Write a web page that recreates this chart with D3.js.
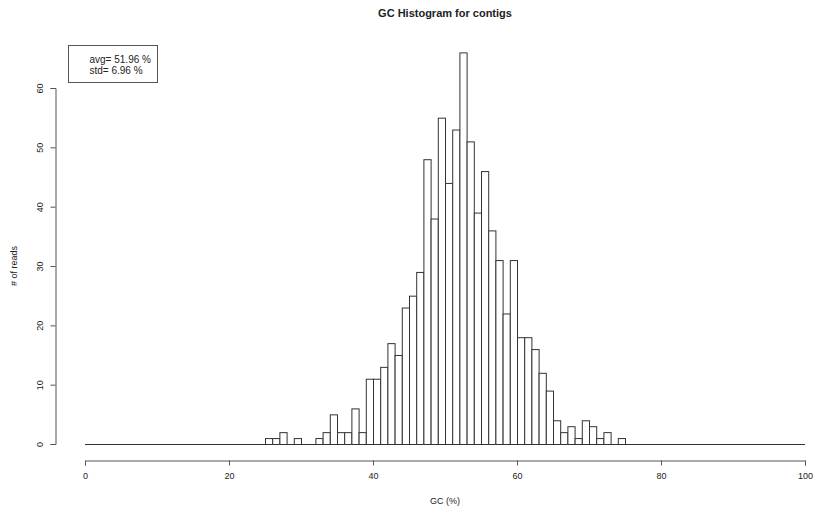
<!DOCTYPE html>
<html>
<head>
<meta charset="utf-8">
<script src="https://cdnjs.cloudflare.com/ajax/libs/d3/7.8.5/d3.min.js"></script>
<style>
  body { margin: 0; background: #fff; }
  text { font-family: "Liberation Sans", Arial, sans-serif; fill: #222; }
</style>
</head>
<body>
<div id="chart"></div>
<script>
// GC content bins, 1% wide, from 0 to 100
const binStarts = d3.range(0, 100);
// counts for bins 25..74, the rest are 0
const firstBin = 25;
const binCounts = [1, 1, 2, 0, 1, 0, 0, 1, 2, 5,
                   2, 2, 6, 2, 11, 11, 13, 17, 15, 23,
                   25, 29, 48, 38, 55, 44, 53, 66, 51, 39,
                   46, 36, 31, 22, 31, 18, 18, 16, 12, 9,
                   4, 2, 3, 1, 4, 3, 1, 2, 0, 1];
const xTicks = [0, 20, 40, 60, 80, 100];
const yTicks = [0, 10, 20, 30, 40, 50, 60];
const legendLines = ["avg= 51.96 %", "std= 6.96 %"];

let drawHist = (locationId) => {
  const W = 816, H = 513;
  const x0 = 85, x1 = 805, y0 = 444, y1 = 88;

  const svg = d3.select(locationId).append("svg")
    .attr("width", W).attr("height", H);

  const xScale = d3.scaleLinear().domain([0, 100]).range([x0, x1]);
  const yScale = d3.scaleLinear().domain([0, 60]).range([y0, y1]);

  const data = binStarts.map((b) => {
    const i = b - firstBin;
    return { x: b, count: i >= 0 && i < binCounts.length ? binCounts[i] : 0 };
  });

  // empty bins still show as a flat line along the bottom
  svg.append("line")
    .attr("x1", xScale(0)).attr("x2", xScale(100))
    .attr("y1", yScale(0) + 0.5).attr("y2", yScale(0) + 0.5)
    .attr("stroke", "#333").attr("stroke-width", 1.2);

  // bars (R style: white fill, dark outline)
  svg.append("g").selectAll("rect")
    .data(data.filter((d) => d.count > 0))
    .join("rect")
    .attr("x", (d) => xScale(d.x) + 0.5)
    .attr("y", (d) => yScale(d.count) + 0.5)
    .attr("width", xScale(1) - xScale(0))
    .attr("height", (d) => yScale(0) - yScale(d.count))
    .attr("fill", "white")
    .attr("stroke", "#333")
    .attr("stroke-width", 1);

  // x axis, set below the bars
  const xAxis = svg.append("g")
    .attr("transform", "translate(0,460.5)")
    .call(d3.axisBottom(xScale).tickValues(xTicks).tickSize(5).tickPadding(7));
  xAxis.select(".domain").attr("stroke", "#555");
  xAxis.selectAll(".tick line").attr("stroke", "#555");
  xAxis.selectAll("text").attr("font-size", 9).attr("fill", "#222")
    .style("font-family", "'Liberation Sans', Arial, sans-serif");

  // y axis, to the left of the plot
  const yAxis = svg.append("g")
    .attr("transform", "translate(55.5,0)")
    .call(d3.axisLeft(yScale).tickValues(yTicks).tickSize(5).tickPadding(0));
  yAxis.select(".domain").attr("stroke", "#555");
  yAxis.selectAll(".tick line").attr("stroke", "#555");
  yAxis.selectAll("text")
    .attr("font-size", 9).attr("fill", "#222")
    .attr("x", null)
    .attr("text-anchor", "middle")
    .attr("transform", "translate(-16,0) rotate(-90)")
    .attr("dy", "0.35em")
    .style("font-family", "'Liberation Sans', Arial, sans-serif");

  // title and axis labels
  svg.append("text")
    .attr("x", (x0 + x1) / 2).attr("y", 17)
    .attr("text-anchor", "middle")
    .attr("font-size", 11).attr("font-weight", "bold")
    .text("GC Histogram for contigs");

  svg.append("text")
    .attr("x", (x0 + x1) / 2).attr("y", 504)
    .attr("text-anchor", "middle")
    .attr("font-size", 9)
    .text("GC (%)");

  svg.append("text")
    .attr("transform", `translate(17,${(y0 + y1) / 2}) rotate(-90)`)
    .attr("text-anchor", "middle")
    .attr("font-size", 9)
    .text("# of reads");

  // legend box
  const lg = svg.append("g").attr("transform", "translate(68.5,45.5)");
  lg.append("rect")
    .attr("width", 89).attr("height", 37)
    .attr("fill", "white").attr("stroke", "#555");
  lg.selectAll("text.lg")
    .data(legendLines)
    .join("text")
    .attr("class", "lg")
    .attr("x", 21).attr("y", (d, i) => 17 + i * 11)
    .attr("font-size", 10)
    .text((d) => d);
};

drawHist("#chart");
</script>
</body>
</html>
